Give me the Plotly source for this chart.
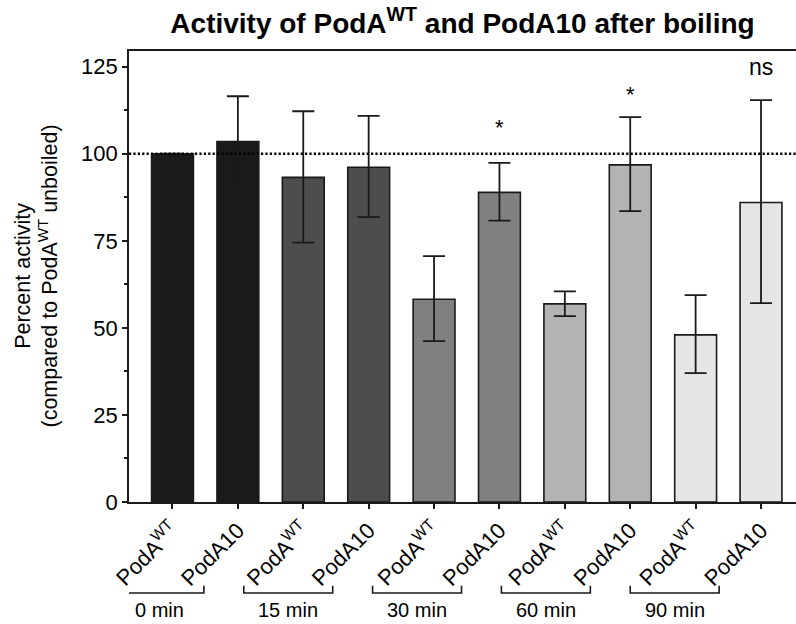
import plotly.graph_objects as go

# ---- data ----
bar_labels = ["PodA<sup>WT</sup>", "PodA10"] * 5
time_groups = ["0 min", "15 min", "30 min", "60 min", "90 min"]
means = [100.0, 103.5, 93.2, 96.1, 58.2, 88.9, 56.9, 96.8, 48.0, 86.0]
upper = [100.0, 116.5, 112.2, 110.9, 70.6, 97.4, 60.5, 110.5, 59.4, 115.4]
lower = [100.0, 90.5, 74.5, 81.8, 46.2, 80.8, 53.4, 83.5, 37.0, 57.1]
group_colors = ["#1a1a1a", "#4d4d4d", "#808080", "#b3b3b3", "#e5e5e5"]
sig_index = [5, 7, 9]
sig_text = ["*", "*", "ns"]
sig_y = [107.4, 117.0, 124.9]
y_ticks = [0, 25, 50, 75, 100, 125]

FONT = "Arial, Liberation Sans, Helvetica, sans-serif"
INK = "#1a1a1a"

x = list(range(len(means)))
colors = [group_colors[i // 2] for i in x]
err_plus = [u - m for u, m in zip(upper, means)]
err_minus = [m - l for m, l in zip(means, lower)]

fig = go.Figure()
fig.add_trace(go.Bar(
    x=x, y=means, width=0.64,
    marker=dict(color=colors, line=dict(color=INK, width=1.6)),
    error_y=dict(type="data", symmetric=False, array=err_plus, arrayminus=err_minus,
                 color=INK, thickness=1.8, width=11),
    showlegend=False,
))

shapes = [dict(type="line", xref="paper", yref="y", x0=0, x1=1, y0=100, y1=100,
               line=dict(color="black", width=2.6, dash="2.2px,2.2px"), layer="above")]
annotations = []

# group brackets below the axis
for g, name in enumerate(time_groups):
    left = 2 * g - 0.88 - 0.03 * g
    right = left + 1.36
    yb, yt = -0.2018, -0.1856
    shapes.append(dict(type="path", xref="x", yref="paper",
                       path=f"M {left},{yt} L {left},{yb} L {right},{yb} L {right},{yt}",
                       line=dict(color=INK, width=1.6)))
    annotations.append(dict(x=(left + right) / 2, y=-0.24, xref="x", yref="paper",
                            text=name, showarrow=False, xanchor="center", yanchor="middle",
                            font=dict(family=FONT, size=20, color="black")))

for i, t, yv in zip(sig_index, sig_text, sig_y):
    annotations.append(dict(x=x[i], y=yv, xref="x", yref="y", text=t, showarrow=False,
                            xanchor="center", yanchor="middle",
                            font=dict(family=FONT, size=23 if t == "ns" else 22, color="black")))

# y-axis title
annotations.append(dict(x=0, y=0.5, xref="paper", yref="paper", xshift=-93,
                        text="Percent activity<br>(compared to PodA<sup>WT</sup> unboiled)",
                        textangle=-90, showarrow=False, xanchor="center", yanchor="middle",
                        font=dict(family=FONT, size=21.5, color="black")))

fig.update_layout(
    width=796, height=624,
    margin=dict(l=129, r=0, t=51, b=122),
    paper_bgcolor="white", plot_bgcolor="white",
    title=dict(text="<b>Activity of PodA<sup>WT</sup> and PodA10 after boiling</b>",
               x=0.5, xref="paper", xanchor="center", y=0.963, yref="container", yanchor="middle",
               font=dict(family=FONT, size=28, color="black")),
    font=dict(family=FONT, color="black"),
    shapes=shapes, annotations=annotations,
    bargap=0.36,
)
fig.update_xaxes(
    range=[-0.665, 9.535], tickmode="array", tickvals=x, ticktext=bar_labels,
    tickangle=-45, tickfont=dict(family=FONT, size=22, color="black"),
    showline=True, linecolor=INK, linewidth=1.6, mirror=True,
    ticks="outside", ticklen=5, tickwidth=1.5, tickcolor=INK,
    showgrid=False, zeroline=False,
)
fig.update_yaxes(
    range=[0, 129.5], tickmode="array", tickvals=y_ticks,
    tickfont=dict(family=FONT, size=22, color="black"),
    showline=True, linecolor=INK, linewidth=1.6,
    ticks="outside", ticklen=5, tickwidth=1.5, tickcolor=INK,
    minor=dict(dtick=12.5, ticks="outside", ticklen=3, tickwidth=1.5, tickcolor=INK, showgrid=False),
    showgrid=False, zeroline=False,
)

fig.write_html("out.html")
